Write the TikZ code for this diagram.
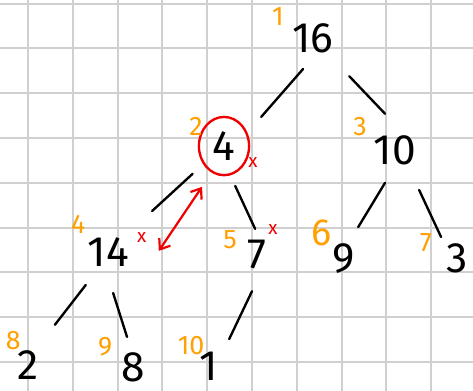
\documentclass[tikz,border=0pt]{standalone}
\usepackage{fontspec}
\setmainfont{Fira Sans}
\usetikzlibrary{arrows.meta, positioning, shapes.geometric, calc}
\definecolor{idxorange}{RGB}{255,160,0}
\definecolor{markred}{RGB}{240,0,0}
\definecolor{gridgray}{RGB}{208,208,208}

\begin{document}
\begin{tikzpicture}[
        num/.style={inner sep=0pt, font=\fontsize{27}{27}\selectfont},
        idx/.style={inner sep=0pt, text=idxorange, font=\fontsize{17}{17}\selectfont},
        sel/.style={ellipse, draw=markred, line width=1.5pt, minimum width=1.12cm, minimum height=1.3cm},
        link/.style={line width=1.5pt, line cap=round},
        xchg/.style={{Straight Barb[length=2mm, width=3mm]}-{Straight Barb[length=2mm, width=3mm]}, line width=1.4pt, markred},
        mrk/.style={inner sep=0pt, text=markred, font=\fontsize{12}{12}\selectfont},
        gridl/.style={draw=gridgray, line width=1.2pt}
      ]
        \useasboundingbox (-0.625,-0.647) rectangle (9.933,8.08);
        \fill[white] (-0.625,-0.647) rectangle (9.933,8.08);
        \draw[gridl, step=1] (-0.625,-0.647) grid (9.933,8.08);
        \node[num] (n16) at (6.36,7.23) {16};
        \node[num, sel] (n4) at (4.375,4.82) {4};
        \node[num] (n10) at (8.19,4.73) {10};
        \node[num] (n14) at (1.79,2.46) {14};
        \node[num] (n7) at (5.11,2.39) {7};
        \node[num] (n9) at (7.05,2.32) {9};
        \node[num] (n3) at (9.58,2.32) {3};
        \node[num] (n2) at (0,-0.06) {2};
        \node[num] (n8) at (2.34,-0.12) {8};
        \node[num] (n1) at (4.04,-0.10) {1};
        \draw[link] ($(n16)+(-0.22,-0.69)$) -- ($(n4)+(0.83,0.65)$);
        \draw[link] ($(n16)+(0.81,-0.85)$) -- ($(n10)+(-0.22,0.81)$);
        \draw[link] ($(n4)+(-0.70,-0.62)$) -- ($(n14)+(0.98,0.91)$);
        \draw[link] ($(n4)+(0.25,-0.89)$) -- ($(n7)+(-0.04,0.58)$);
        \draw[link] ($(n10)+(-0.22,-0.73)$) -- ($(n9)+(0.32,0.69)$);
        \draw[link] ($(n10)+(0.54,-0.89)$) -- ($(n3)+(-0.36,0.47)$);
        \draw[link] ($(n14)+(-0.50,-0.74)$) -- ($(n2)+(0.60,0.89)$);
        \draw[link] ($(n14)+(0.11,-0.92)$) -- ($(n8)+(-0.13,0.68)$);
        \draw[link] ($(n7)+(-0.11,-0.81)$) -- ($(n1)+(0.45,0.61)$);
        % Tausch 4 <-> 14
        \draw[xchg] ($(n4)+(-0.49,-0.91)$) -- ($(n14)+(1.13,0.02)$);
        \node[mrk] (m4) at (5.02,4.46) {x};
        \node[mrk] (m14) at (2.54,2.77) {x};
        \node[mrk] (m7) at (5.47,2.95) {x};
        % Indizes
        \node[idx] (i1) at (5.58,7.72) {1};
        \node[idx] (i2) at (3.75,5.25) {2};
        \node[idx] (i3) at (7.41,5.25) {3};
        \node[idx] (i4) at (1.12,3.08) {4};
        \node[idx] (i5) at (4.51,2.72) {5};
        \node[idx, font=\fontsize{24}{24}\selectfont] (i6) at (6.56,2.88) {6};
        \node[idx] (i7) at (8.88,2.66) {7};
        \node[idx] (i8) at (-0.33,0.48) {8};
        \node[idx] (i9) at (1.72,0.33) {9};
        \node[idx] (i10) at (3.64,0.36) {10};
      \end{tikzpicture}
\end{document}
